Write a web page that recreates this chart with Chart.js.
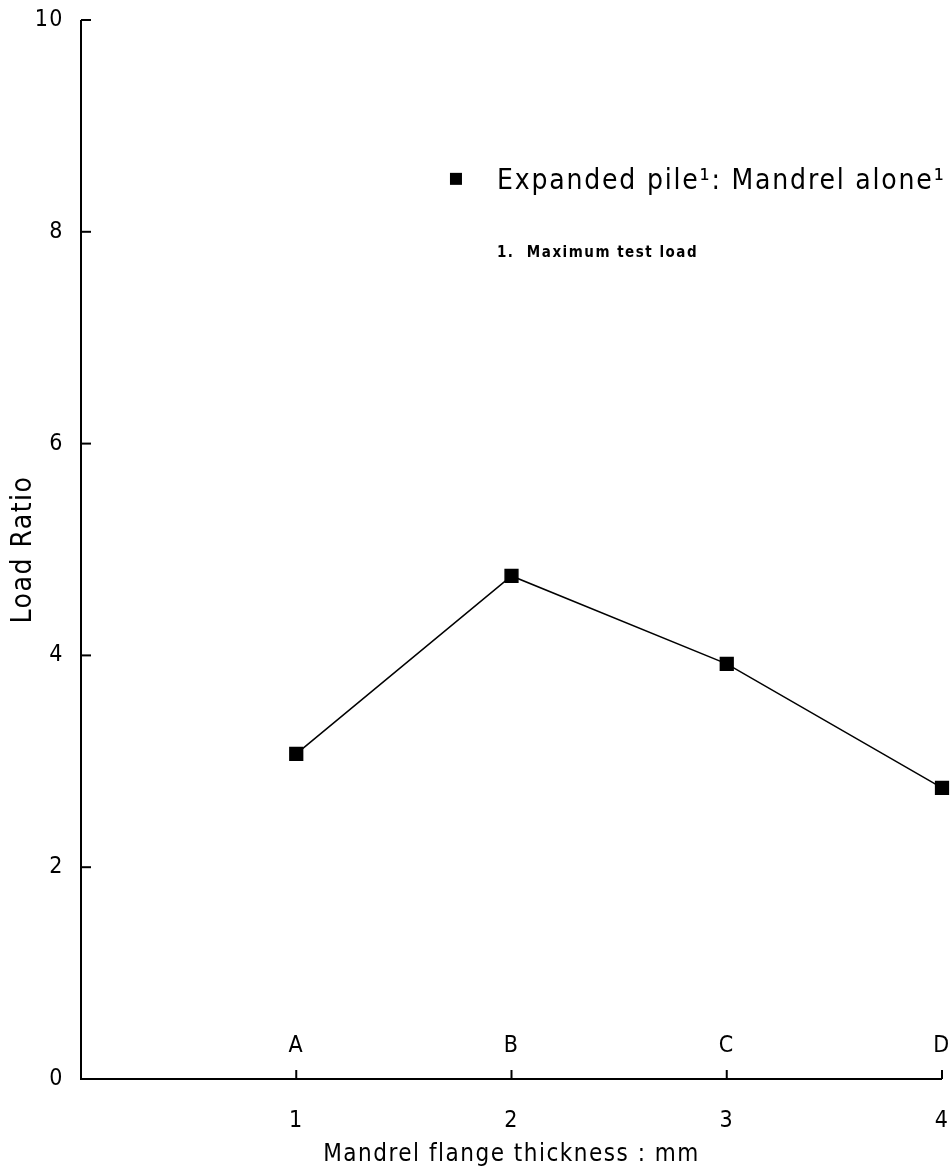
<!DOCTYPE html>
<html>
<head>
<meta charset="utf-8">
<script src="https://cdn.jsdelivr.net/npm/chart.js@4"></script>
<style>
html,body{margin:0;padding:0;background:#fff;}
#wrap{width:952px;height:1167px;position:relative;}
</style>
</head>
<body>
<div id="wrap"><canvas id="c" width="952" height="1167"></canvas></div>
<script>
const thickness = [1, 2, 3, 4];
const categories = ['A', 'B', 'C', 'D'];
const loadRatio = [3.07, 4.75, 3.92, 2.75];
const yTicks = [0, 2, 4, 6, 8, 10];
const xTicks = [1, 2, 3, 4];
const seriesLabel = 'Expanded pile\u00B9: Mandrel alone\u00B9';
const noteText = '1.  Maximum test load';
const letterLevel = 0.31;

const FONT = '"DejaVu Sans Condensed", "DejaVu Sans", sans-serif';

const overlay = {
  id: 'overlay',
  beforeLayout(chart) { chart.ctx.letterSpacing = '1.5px'; },
  beforeDraw(chart) { chart.ctx.letterSpacing = '1.5px'; },
  afterDraw(chart) {
    const ctx = chart.ctx;
    const xs = chart.scales.x, ys = chart.scales.y;
    const x0 = xs.getPixelForValue(0), y0 = ys.getPixelForValue(0);
    ctx.save();
    ctx.strokeStyle = '#000';
    ctx.lineWidth = 2;
    ctx.beginPath();
    ctx.moveTo(x0, ys.getPixelForValue(10));
    ctx.lineTo(x0, y0);
    ctx.lineTo(xs.getPixelForValue(4), y0);
    ctx.stroke();
    yTicks.forEach(v => {
      if (v === 0) return;
      const py = ys.getPixelForValue(v);
      ctx.beginPath(); ctx.moveTo(x0, py); ctx.lineTo(x0 + 10, py); ctx.stroke();
    });
    xTicks.forEach(v => {
      const px = xs.getPixelForValue(v);
      ctx.beginPath(); ctx.moveTo(px, y0); ctx.lineTo(px, y0 - 9); ctx.stroke();
    });
    ctx.fillStyle = '#000';
    ctx.font = '23px ' + FONT;
    ctx.letterSpacing = '1.5px';
    ctx.textAlign = 'center';
    ctx.textBaseline = 'middle';
    categories.forEach((c, i) => {
      ctx.fillText(c, xs.getPixelForValue(thickness[i]), ys.getPixelForValue(letterLevel));
    });
    const lx = xs.getPixelForValue(1.742), ly = ys.getPixelForValue(8.50);
    ctx.fillRect(lx - 6, ly - 6, 12, 12);
    ctx.textAlign = 'left';
    ctx.font = '28px ' + FONT;
    ctx.letterSpacing = '1.8px';
    ctx.fillText(seriesLabel, lx + 41, ly + 3);
    ctx.font = 'bold 15px ' + FONT;
    ctx.letterSpacing = '1.5px';
    ctx.fillText(noteText, lx + 41, ys.getPixelForValue(7.80));
    ctx.restore();
  }
};

new Chart(document.getElementById('c'), {
  type: 'line',
  data: {
    datasets: [{
      label: seriesLabel,
      data: thickness.map((t, i) => ({x: t, y: loadRatio[i]})),
      borderColor: '#000',
      backgroundColor: '#000',
      borderWidth: 1.5,
      pointStyle: 'rect',
      pointRadius: 9,
      pointHoverRadius: 9,
      tension: 0,
      clip: false
    }]
  },
  options: {
    responsive: false,
    animation: false,
    layout: {autoPadding: false, padding: {top: 20, right: 10, left: 0, bottom: 0}},
    plugins: {legend: {display: false}, tooltip: {enabled: false}},
    scales: {
      x: {
        type: 'linear', min: 0, max: 4,
        afterBuildTicks: s => { s.ticks = xTicks.map(v => ({value: v})); },
        grid: {display: false, drawTicks: false},
        border: {display: false},
        ticks: {color: '#000', font: {family: FONT, size: 23}, padding: 28},
        title: {display: true, text: 'Mandrel flange thickness : mm', color: '#000', font: {family: FONT, size: 24, lineHeight: 1}, padding: {top: 8, bottom: 0}},
        afterFit: s => { s.height = 88; s.paddingLeft = 0; s.paddingRight = 0; }
      },
      y: {
        min: 0, max: 10,
        afterBuildTicks: s => { s.ticks = yTicks.map(v => ({value: v})); },
        grid: {display: false, drawTicks: false},
        border: {display: false},
        ticks: {color: '#000', font: {family: FONT, size: 23}, padding: 17},
        title: {display: true, text: 'Load Ratio', color: '#000', font: {family: FONT, size: 28}, padding: {top: 7, bottom: 0}},
        afterFit: s => { s.width = 81; s.paddingTop = 0; s.paddingBottom = 0; }
      }
    }
  },
  plugins: [overlay]
});
</script>
</body>
</html>
